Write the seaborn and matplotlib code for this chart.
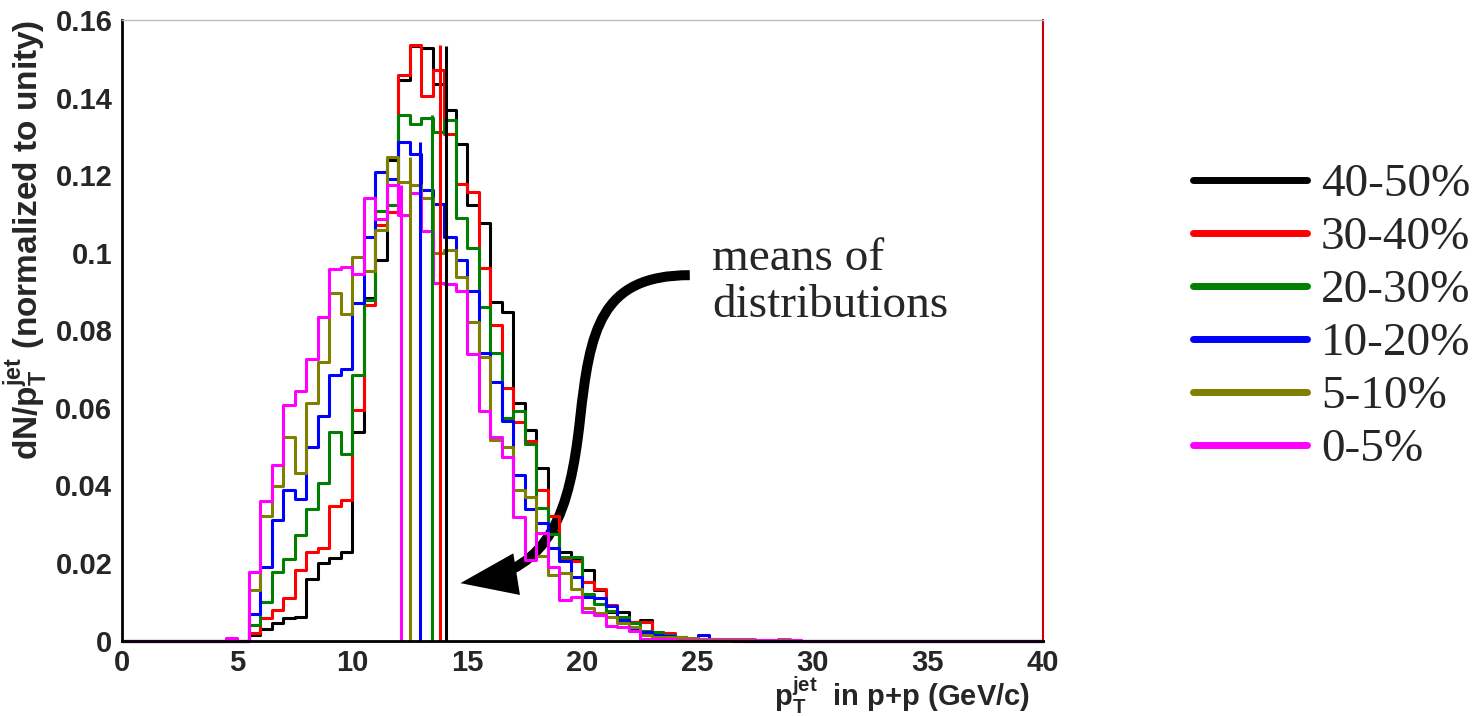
import numpy as np
import pandas as pd
import matplotlib
matplotlib.use("Agg")
import matplotlib.pyplot as plt
import seaborn as sns
from matplotlib.lines import Line2D
from matplotlib.patches import FancyArrowPatch, ArrowStyle
from matplotlib.path import Path

# binning: 80 bins of 0.5 GeV/c from 0 to 40, values listed from 4.5 GeV/c on
n_bins = 80
pt_range = (0, 40)
first_bin = 4.5

labels = ["40-50%", "30-40%", "20-30%", "10-20%", "5-10%", "0-5%"]
colors = ["#000000", "#ff0000", "#007f00", "#0000ff", "#7f7f00", "#ff00ff"]

c40_50 = [0, 0, 0.0015, 0.0030, 0.0044, 0.0057, 0.0061, 0.0158, 0.0199, 0.0214,
          0.0227, 0.0538, 0.0882, 0.0982, 0.1240, 0.1446, 0.1533, 0.1528, 0.1436, 0.1369,
          0.1279, 0.1122, 0.1077, 0.0874, 0.0848, 0.0613, 0.0543, 0.0444, 0.0280, 0.0229,
          0.0211, 0.0181, 0.0130, 0.0074, 0.0074, 0.0047, 0.0053, 0.0015, 0.0010, 0.0006,
          0.0003, 0.0002, 0.0001, 0.0001]
c30_40 = [0, 0, 0.0020, 0.0057, 0.0078, 0.0109, 0.0183, 0.0229, 0.0239, 0.0348,
          0.0362, 0.0594, 0.0865, 0.1071, 0.1105, 0.1457, 0.1535, 0.1403, 0.1471, 0.1307,
          0.1178, 0.1157, 0.0960, 0.0813, 0.0650, 0.0564, 0.0515, 0.0388, 0.0321, 0.0207,
          0.0205, 0.0151, 0.0132, 0.0091, 0.0054, 0.0048, 0.0048, 0.0023, 0.0019, 0.0010,
          0.0005, 0.0003, 0.0002, 0.0001]
c20_30 = [0, 0, 0.0040, 0.0100, 0.0177, 0.0209, 0.0272, 0.0340, 0.0405, 0.0538,
          0.0482, 0.0684, 0.0877, 0.1107, 0.1122, 0.1354, 0.1333, 0.1348, 0.1312, 0.1343,
          0.1090, 0.1013, 0.0861, 0.0742, 0.0573, 0.0592, 0.0506, 0.0341, 0.0274, 0.0216,
          0.0216, 0.0121, 0.0095, 0.0077, 0.0061, 0.0044, 0.0025, 0.0023, 0.0014, 0.0010,
          0.0006, 0.0004, 0.0003, 0.0002, 0.0001]
c10_20 = [0, 0, 0.0068, 0.0189, 0.0311, 0.0388, 0.0366, 0.0498, 0.0580, 0.0684,
          0.0699, 0.0869, 0.1040, 0.1208, 0.1191, 0.1286, 0.1255, 0.1161, 0.1125, 0.1041,
          0.0982, 0.0900, 0.0742, 0.0667, 0.0567, 0.0426, 0.0338, 0.0302, 0.0238, 0.0205,
          0.0164, 0.0113, 0.0109, 0.0089, 0.0053, 0.0031, 0.0023, 0.0014, 0.0011, 0.0008,
          0.0003, 0.0014, 0.0003, 0.0002, 0.0001]
c5_10 = [0.0004, 0, 0.0130, 0.0321, 0.0398, 0.0524, 0.0432, 0.0613, 0.0719, 0.0897,
         0.0843, 0.0988, 0.0953, 0.1058, 0.1247, 0.1183, 0.1174, 0.1140, 0.1000, 0.1008,
         0.0938, 0.0822, 0.0731, 0.0518, 0.0500, 0.0388, 0.0371, 0.0218, 0.0169, 0.0175,
         0.0132, 0.0083, 0.0072, 0.0061, 0.0044, 0.0034, 0.0014, 0.0010, 0.0008, 0.0008,
         0.0006, 0.0005, 0.0005, 0.0005, 0.0003, 0.0004, 0.0002, 0.0002, 0.0004, 0.0001]
c0_5 = [0.0006, 0, 0.0177, 0.0360, 0.0452, 0.0607, 0.0644, 0.0725, 0.0835, 0.0959,
        0.0963, 0.0945, 0.1140, 0.1088, 0.1174, 0.1097, 0.1154, 0.1056, 0.0922, 0.0920,
        0.0902, 0.0738, 0.0592, 0.0524, 0.0472, 0.0319, 0.0207, 0.0276, 0.0190, 0.0104,
        0.0113, 0.0074, 0.0066, 0.0038, 0.0036, 0.0024, 0.0005, 0.0003, 0.0003, 0.0002,
        0.0002, 0.0002, 0.0002, 0.0001, 0.0001, 0.0001, 0.0001, 0.0001, 0.0001, 0.0001]

# means of the distributions (GeV/c)
means = [14.07, 13.80, 13.45, 12.94, 12.51, 12.12]

series = [c40_50, c30_40, c20_30, c10_20, c5_10, c0_5]

sns.set_style("white")
plt.rcParams["font.family"] = ["Liberation Sans", "DejaVu Sans"]
plt.rcParams["font.weight"] = "bold"
plt.rcParams["axes.labelweight"] = "bold"
plt.rcParams["mathtext.fontset"] = "custom"
plt.rcParams["mathtext.rm"] = "Liberation Sans:bold"
plt.rcParams["mathtext.it"] = "Liberation Sans:bold"
plt.rcParams["mathtext.bf"] = "Liberation Sans:bold"
plt.rcParams["mathtext.default"] = "rm"

fig = plt.figure(figsize=(14.75, 7.16), dpi=100)
ax = fig.add_axes([0.0827, 0.1054, 0.6244, 0.8667])

width = (pt_range[1] - pt_range[0]) / n_bins
centers = pt_range[0] + width * (np.arange(n_bins) + 0.5)
offset = int(round((first_bin - pt_range[0]) / width))
for vals, col in zip(series, colors):
    full = np.zeros(n_bins)
    full[offset:offset + len(vals)] = vals
    df = pd.DataFrame({"pt": centers, "w": full})
    sns.histplot(data=df, x="pt", weights="w", bins=n_bins, binrange=pt_range,
                 element="step", fill=False, color=col, linewidth=2.2, ax=ax, clip_on=False)

# vertical lines at the means, up to each distribution's maximum
for vals, m, col in zip(series, means, colors):
    ax.vlines(m, 0, max(vals), color=col, linewidth=2.2)

ax.set_xlim(0, 40)
ax.set_ylim(0, 0.16)
ax.set_xticks(np.arange(0, 41, 5))
ax.set_xticks(np.arange(0, 41, 1), minor=True)
ax.set_yticks(np.arange(0, 0.161, 0.02))
ax.set_yticks(np.arange(0, 0.161, 0.004), minor=True)
ax.set_yticklabels(["0", "0.02", "0.04", "0.06", "0.08", "0.1", "0.12", "0.14", "0.16"])
ax.tick_params(which="both", direction="in", width=1.6, labelsize=21, color="black")
ax.tick_params(which="major", length=13, pad=7)
ax.tick_params(axis="x", which="major", pad=6)
ax.tick_params(which="minor", length=7)

for s in ["left", "bottom"]:
    ax.spines[s].set_linewidth(2)
    ax.spines[s].set_color("black")
ax.spines["top"].set_color("#bbbbbb")
ax.spines["top"].set_linewidth(1)
ax.spines["right"].set_color("#cc0000")
ax.spines["right"].set_linewidth(1.5)

ax.set_ylabel(r"dN/p$_{T}^{jet}$ (normalized to unity)", fontsize=24, fontweight="bold",
              loc="top", labelpad=4)
ax.set_xlabel(r"p$_{T}^{jet}$  in p+p (GeV/c)", fontsize=21, fontweight="bold", loc="right")
ax.xaxis.set_label_coords((1030 - 122) / 921, -0.055)

# legend
handles = [Line2D([], [], color=c, linewidth=5) for c in colors]
leg = ax.legend(handles, labels, loc="upper left", bbox_to_anchor=(0.8088, 0.772),
                bbox_transform=fig.transFigure, frameon=False, borderpad=0, borderaxespad=0,
                handlelength=2.41, handletextpad=0.3, labelspacing=0.21,
                prop={"family": "Liberation Serif", "size": 34, "weight": "normal"})

# annotation
serif = {"family": "Liberation Serif", "size": 34, "weight": "normal"}
ax.text(25.62, 0.0955, "means of", ha="left", va="baseline", **serif)
ax.text(25.62, 0.0834, "distributions", ha="left", va="baseline", **serif)

arrow_x = [24.66, 20.76, 20.32, 19.89, 19.45, 18.60, 14.70]
arrow_y = [0.0942, 0.0942, 0.0801, 0.0568, 0.0330, 0.0185, 0.0148]
codes = [Path.MOVETO] + [Path.CURVE4] * 6
arrow = FancyArrowPatch(path=Path(np.column_stack([arrow_x, arrow_y]), codes),
                        arrowstyle=ArrowStyle("-|>", head_length=27, head_width=10),
                        mutation_scale=1, shrinkA=0, shrinkB=0, color="black",
                        linewidth=7.2, capstyle="butt", joinstyle="miter")
ax.add_patch(arrow)

fig.savefig("out.png", dpi=100)
